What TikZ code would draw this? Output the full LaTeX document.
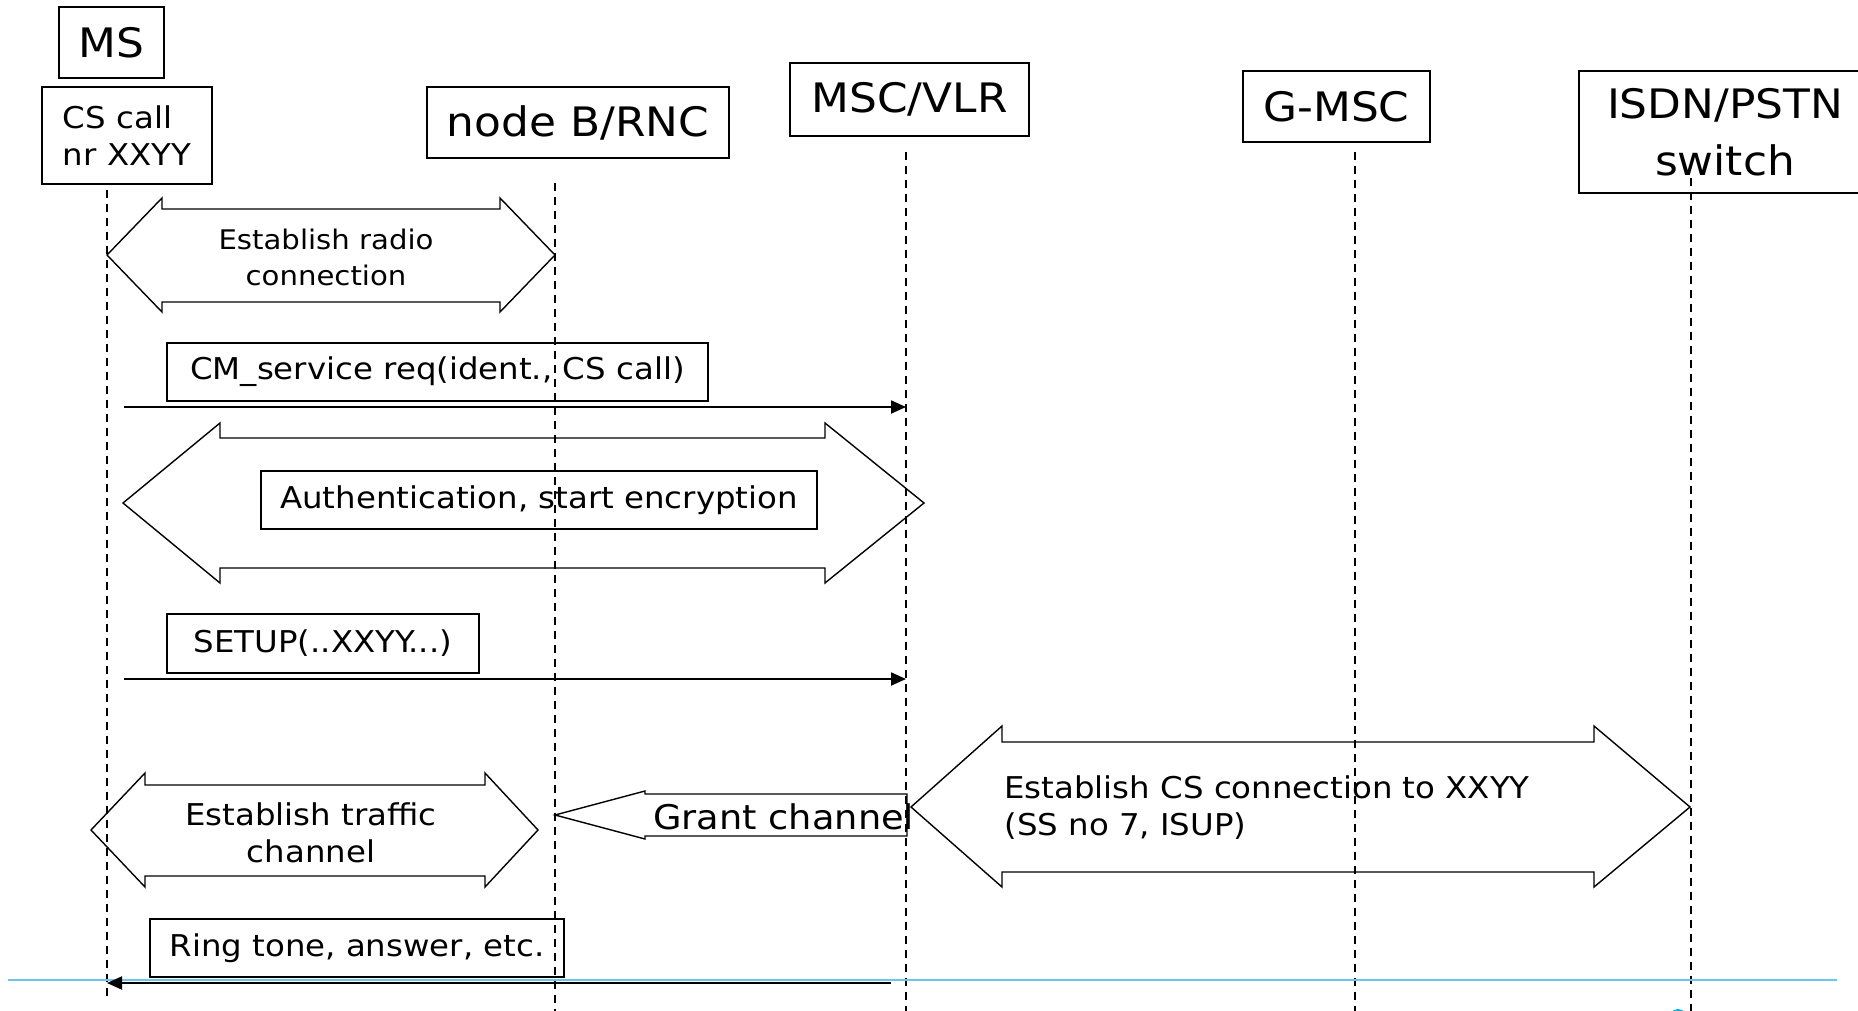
\documentclass[tikz,border=0pt]{standalone}
\usepackage{fontspec}
\setmainfont{DejaVu Sans}[FakeStretch=1.08]
\usetikzlibrary{arrows.meta}

\definecolor{rulecol}{RGB}{110,195,240}
\definecolor{logocol}{RGB}{0,170,230}

\tikzset{
  box/.style={draw, line width=1pt, inner sep=0pt},
  title/.style={font=\fontsize{20.3}{28.5}\selectfont},
  msg/.style={font=\fontsize{15}{18.5}\selectfont},
  life/.style={dash pattern=on 4pt off 3pt, line width=0.8pt},
  fat/.style={draw, line width=0.7pt, line join=miter},
  signal/.style={line width=1pt, -{Triangle[length=7.5pt,width=6.5pt]}}
}

\begin{document}
\begin{tikzpicture}[x=0.5pt,y=-0.5pt]
\useasboundingbox (0,0) rectangle (1858,1011);
% entities
\node[box, title, minimum width=52.5pt, minimum height=35.5pt] (ms) at (111.5,42.5) {MS};
\node[box, msg, align=left, minimum width=85pt, minimum height=48.5pt] (call) at (127,135.5) {CS call\\nr XXYY};
\node[box, title, minimum width=151pt, minimum height=35.5pt] (rnc) at (578,122.5) {node B/RNC};
\node[box, title, minimum width=119.5pt, minimum height=36.5pt] (msc) at (909.5,99.5) {MSC/VLR};
\node[box, title, minimum width=93.5pt, minimum height=35.5pt] (gmsc) at (1336.5,106.5) {G-MSC};
\node[box, title, align=center, minimum width=146pt, minimum height=61pt] (isdn) at (1725,132) {ISDN/PSTN\\switch};
% lifelines
\coordinate (ms top) at (107,190);
\coordinate (ms bot) at (107,997);
\coordinate (rnc top) at (555,183);
\coordinate (rnc bot) at (555,1011);
\coordinate (msc top) at (906,152);
\coordinate (msc bot) at (906,1011);
\coordinate (gmsc top) at (1355,152);
\coordinate (gmsc bot) at (1355,1011);
\coordinate (isdn top) at (1691,178);
\coordinate (isdn bot) at (1691,1011);
\draw[life] (ms top) -- (ms bot);
\draw[life] (rnc top) -- (rnc bot);
\draw[life] (msc top) -- (msc bot);
\draw[life] (gmsc top) -- (gmsc bot);
\draw[life] (isdn top) -- (isdn bot);
% radio connection
\draw[fat] (107,255) -- (162,198) -- (162,209) -- (500,209) -- (500,198) -- (555,255)
  -- (500,312) -- (500,302) -- (162,302) -- (162,312) -- cycle;
\node[font=\fontsize{13.5}{18}\selectfont, align=center] (radio) at (326,257) {Establish radio\\connection};
% service request
\node[box, msg, minimum width=270.5pt, minimum height=29pt] (req) at (437.5,372) {CM\_service req(ident., CS call)};
\coordinate (req a) at (124,407);
\coordinate (req b) at (906,407);
\draw[signal] (req a) -- (req b);
% authentication
\draw[fat] (123,503) -- (220,423) -- (220,438) -- (825,438) -- (825,423) -- (924,503)
  -- (825,583) -- (825,568) -- (220,568) -- (220,583) -- cycle;
\node[box, msg, minimum width=278pt, minimum height=29pt] (auth) at (539,500) {Authentication, start encryption};
% setup
\node[box, msg, minimum width=156pt, minimum height=29.5pt] (setup) at (323,643.5) {SETUP(..XXYY...)};
\coordinate (setup a) at (124,679);
\coordinate (setup b) at (906,679);
\draw[signal] (setup a) -- (setup b);
% CS connection
\draw[fat] (911,807) -- (1002,726) -- (1002,742) -- (1594,742) -- (1594,726) -- (1690,807)
  -- (1594,887) -- (1594,872) -- (1002,872) -- (1002,887) -- cycle;
\node[msg, align=left, anchor=west, inner sep=0pt] (csconn) at (1004,808) {Establish CS connection to XXYY\\(SS no 7, ISUP)};
% traffic channel
\draw[fat] (91,830) -- (145,773) -- (145,785) -- (485,785) -- (485,773) -- (538,830)
  -- (485,887) -- (485,876) -- (145,876) -- (145,887) -- cycle;
\node[msg, align=center] (traffic) at (311,833) {Establish traffic\\channel};
% grant channel
\draw[fat] (555,815) -- (645,791) -- (645,794) -- (907,794) -- (907,836) -- (645,836) -- (645,839) -- cycle;
\node[font=\fontsize{17}{20}\selectfont, anchor=west, inner sep=0pt] (grant) at (653,817) {Grant channel};
% ring tone
\node[box, msg, minimum width=207pt, minimum height=29pt] (ring) at (357,948) {Ring tone, answer, etc.};
\coordinate (ring a) at (891,983);
\coordinate (ring b) at (107,983);
% slide rule
\draw[rulecol, line width=1pt] (8,980) -- (1837,980);
\draw[signal] (ring a) -- (ring b);
\fill[logocol] (1678,1025) ellipse (11 and 16);
\end{tikzpicture}
\end{document}
